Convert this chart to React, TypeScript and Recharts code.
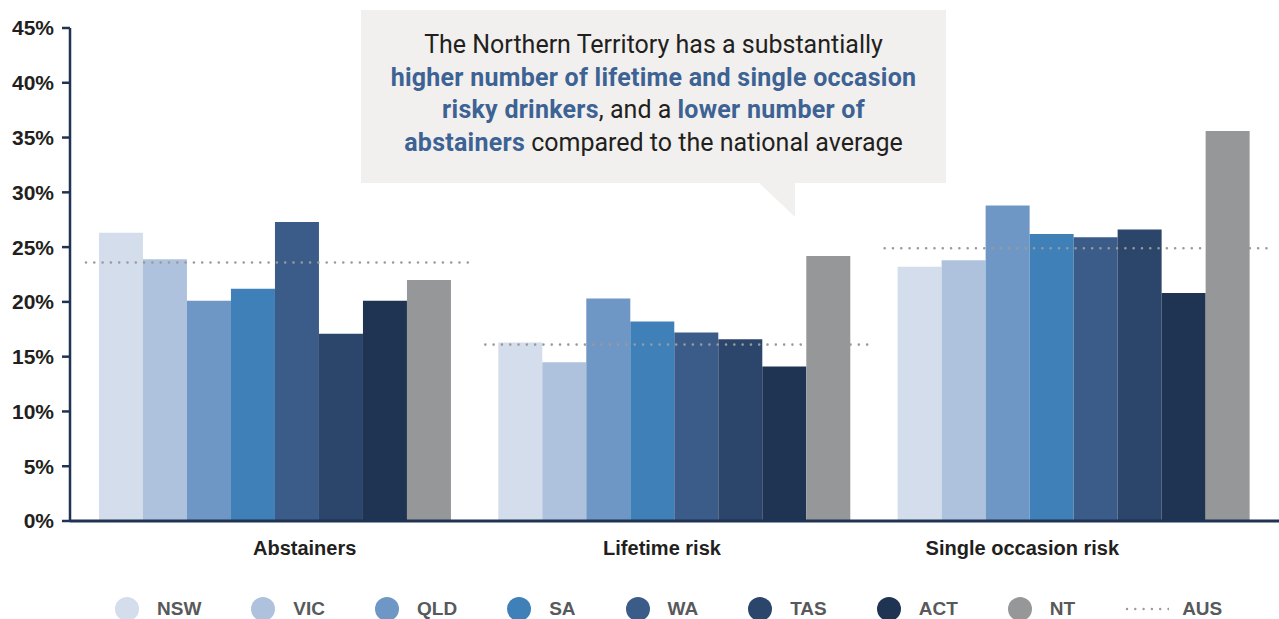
import React from "react";
import { BarChart, Bar, XAxis, YAxis } from "recharts";

/* ── data ─────────────────────────────────────────────────── */
const categories = ["Abstainers", "Lifetime risk", "Single occasion risk"];
const nsw = [26.3, 16.3, 23.2];
const vic = [23.9, 14.5, 23.8];
const qld = [20.1, 20.3, 28.8];
const sa = [21.2, 18.2, 26.2];
const wa = [27.3, 17.2, 25.9];
const tas = [17.1, 16.6, 26.6];
const act = [20.1, 14.1, 20.8];
const nt = [22.0, 24.2, 35.6];
const aus = [23.6, 16.1, 24.9];
const yTicks = [0, 5, 10, 15, 20, 25, 30, 35, 40, 45];

const states = [
  { key: "NSW", values: nsw, color: "#d4ddeb" },
  { key: "VIC", values: vic, color: "#afc2dd" },
  { key: "QLD", values: qld, color: "#6f97c5" },
  { key: "SA", values: sa, color: "#3f80b8" },
  { key: "WA", values: wa, color: "#3b5c88" },
  { key: "TAS", values: tas, color: "#2c456a" },
  { key: "ACT", values: act, color: "#1f3352" },
  { key: "NT", values: nt, color: "#969799" },
];

const data = categories.map((cat, i) => {
  const row: Record<string, string | number> = { cat, AUS: aus[i] };
  states.forEach((s) => (row[s.key] = s.values[i]));
  return row;
});

const NAVY = "#1f3352";
const FONT = "'Liberation Sans', Arial, sans-serif";
// category labels in the original sit a little off the band centres
const labelShift = [28, -14, -53];

/* ── AUS dotted average, drawn as a flat bar top ──────────── */
const AusLine = (props: any) => {
  const { x, y, width } = props;
  return (
    <line
      x1={x}
      x2={x + width}
      y1={y}
      y2={y}
      stroke="#9a9a9a"
      strokeWidth={2.6}
      strokeLinecap="round"
      strokeDasharray="0 8.3"
    />
  );
};

const CatTick = (props: any) => {
  const { x, y, payload, index } = props;
  return (
    <text
      x={x + (labelShift[index] || 0)}
      y={y}
      dy="0.71em"
      textAnchor="middle"
      fill="#231f20"
      fontSize={20}
      fontWeight={700}
      fontFamily={FONT}
    >
      {payload.value}
    </text>
  );
};

/* ── callout ──────────────────────────────────────────────── */
function Callout() {
  const blue = { color: "#3d6294", fontWeight: 700, letterSpacing: 0.25 };
  return (
    <>
      <div
        style={{
          position: "absolute",
          left: 361,
          top: 10,
          width: 585,
          height: 173,
          background: "#f1f0ee",
          boxSizing: "border-box",
          paddingTop: 19,
          textAlign: "center",
          fontFamily: "Roboto, sans-serif",
          fontSize: 25,
          lineHeight: "32.5px",
          color: "#231f20",
          whiteSpace: "nowrap",
        }}
      >
        The Northern Territory has a substantially
        <br />
        <span style={blue}>higher number of lifetime and single occasion</span>
        <br />
        <span style={blue}>risky drinkers</span>, and a{" "}
        <span style={blue}>lower number of</span>
        <br />
        <span style={blue}>abstainers</span> compared to the national average
      </div>
      <svg
        style={{ position: "absolute", left: 0, top: 0 }}
        width={1279}
        height={230}
        pointerEvents="none"
      >
        <polygon points="758,182 795,182 795,217" fill="#f1f0ee" />
      </svg>
    </>
  );
}

/* ── legend ───────────────────────────────────────────────── */
function Legend() {
  return (
    <div
      style={{
        position: "absolute",
        left: 115,
        top: 597,
        display: "flex",
        alignItems: "center",
        fontFamily: FONT,
        fontWeight: 700,
        fontSize: 19,
        color: "#58595b",
        whiteSpace: "nowrap",
      }}
    >
      {states.map((s) => (
        <div
          key={s.key}
          style={{ display: "flex", alignItems: "center", marginRight: 50 }}
        >
          <span
            style={{
              width: 24,
              height: 24,
              borderRadius: 12,
              background: s.color,
              marginRight: 18,
            }}
          />
          {s.key}
        </div>
      ))}
      <div style={{ display: "flex", alignItems: "center" }}>
        <svg width={44} height={6} style={{ marginRight: 13 }}>
          <line
            x1={2}
            x2={44}
            y1={3}
            y2={3}
            stroke="#9a9a9a"
            strokeWidth={2.4}
            strokeLinecap="round"
            strokeDasharray="0 8.3"
          />
        </svg>
        AUS
      </div>
    </div>
  );
}

/* ── chart ────────────────────────────────────────────────── */
export default function App() {
  return (
    <div
      style={{
        position: "absolute",
        left: 0,
        top: 0,
        width: 1279,
        height: 619,
        background: "#fff",
        overflow: "hidden",
      }}
    >
      <BarChart
        width={1279}
        height={575}
        data={data}
        margin={{ top: 28, right: 0, bottom: 0, left: 0 }}
        barCategoryGap="5.5%"
        barGap={0}
      >
        <XAxis
          dataKey="cat"
          padding={{ left: 7, right: 4 }}
          height={54}
          axisLine={{ stroke: NAVY, strokeWidth: 3 }}
          tickLine={false}
          tickMargin={14}
          tick={CatTick}
        />
        <XAxis xAxisId="aus" dataKey="cat" hide padding={{ left: 7, right: 4 }} />
        <YAxis
          width={70}
          domain={[0, 45]}
          ticks={yTicks}
          interval={0}
          tickFormatter={(v: number) => `${v}%`}
          axisLine={{ stroke: NAVY, strokeWidth: 2.5 }}
          tickLine={{ stroke: NAVY, strokeWidth: 2.5 }}
          tickSize={8}
          tickMargin={8}
          tick={{ fill: "#231f20", fontSize: 21, fontWeight: 700, fontFamily: FONT }}
        />
        {states.slice(0, 7).map((s) => (
          <Bar key={s.key} dataKey={s.key} fill={s.color} isAnimationActive={false} />
        ))}
        <Bar
          dataKey="AUS"
          xAxisId="aus"
          barSize={382}
          shape={AusLine}
          isAnimationActive={false}
        />
        <Bar dataKey="NT" fill={states[7].color} isAnimationActive={false} />
      </BarChart>
      <Callout />
      <Legend />
    </div>
  );
}
